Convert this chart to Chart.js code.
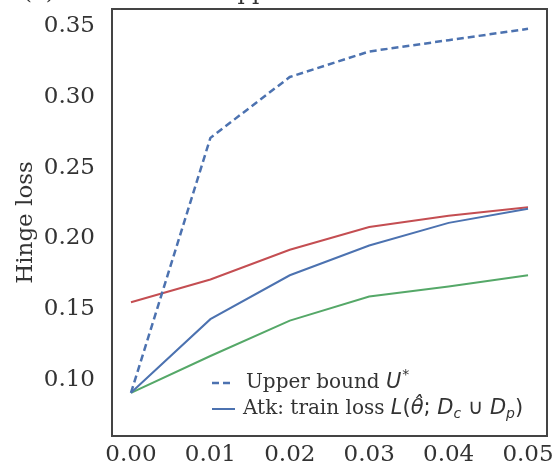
<!DOCTYPE html>
<html>
<head>
<meta charset="utf-8">
<script src="https://cdn.jsdelivr.net/npm/chart.js@4"></script>
<style>
  html, body { margin: 0; padding: 0; background: #fff; }
  #grafico { display: block; }
</style>
</head>
<body>
<canvas id="grafico" width="556" height="471"></canvas>
<script>
// Datos
const xValores = [0.00, 0.01, 0.02, 0.03, 0.04, 0.05];
const cotaSuperior = [0.091, 0.271, 0.314, 0.332, 0.340, 0.348];
const perdidaAtaque = [0.091, 0.143, 0.174, 0.195, 0.211, 0.221];
const serieRoja = [0.155, 0.171, 0.192, 0.208, 0.216, 0.222];
const serieVerde = [0.091, 0.117, 0.142, 0.159, 0.166, 0.174];

const xTicks = [0.00, 0.01, 0.02, 0.03, 0.04, 0.05];
const yTicks = [0.10, 0.15, 0.20, 0.25, 0.30, 0.35];

const AZUL = '#4C72B0';
const VERDE = '#55A868';
const ROJO = '#C44E52';
const TEXTO = '#333333';
const SERIF = "'DejaVu Serif', serif";

const puntos = arr => arr.map((v, i) => ({ x: xValores[i], y: v }));

// Marco alrededor del area de trazado
const marcoPlugin = {
  id: 'marco',
  afterDatasetsDraw(chart) {
    const { ctx, chartArea: a } = chart;
    ctx.save();
    ctx.strokeStyle = '#444';
    ctx.lineWidth = 2;
    ctx.strokeRect(a.left, a.top, a.right - a.left, a.bottom - a.top);
    ctx.restore();
  }
};

// Dibuja segmentos de texto con estilos distintos (tipo mathtext)
function dibujarSegmentos(ctx, x, y, segmentos) {
  segmentos.forEach(s => {
    ctx.font = s.font;
    ctx.fillText(s.t, x, y + (s.dy || 0));
    x += ctx.measureText(s.t).width + (s.extra || 0);
  });
}

// Leyenda dentro del grafico (abajo a la derecha)
const leyendaPlugin = {
  id: 'leyendaInterna',
  afterDraw(chart) {
    const { ctx } = chart;
    const normal = "20px 'DejaVu Serif'";
    const mate = "21px 'DejaVu Sans'";
    const ital = "italic 21px 'DejaVu Sans'";
    const chico = "italic 14px 'DejaVu Sans'";
    ctx.save();
    ctx.fillStyle = TEXTO;
    ctx.textBaseline = 'middle';

    // Entrada 1: cota superior (discontinua)
    ctx.strokeStyle = AZUL;
    ctx.lineWidth = 2.5;
    ctx.setLineDash([7, 4]);
    ctx.beginPath();
    ctx.moveTo(212, 383);
    ctx.lineTo(234, 383);
    ctx.stroke();
    dibujarSegmentos(ctx, 246, 383, [
      { t: 'Upper bound ', font: normal },
      { t: 'U', font: ital, extra: 1 },
      { t: '*', font: "14px 'DejaVu Sans'", dy: -8 }
    ]);

    // Entrada 2: perdida de entrenamiento del ataque
    ctx.setLineDash([]);
    ctx.lineWidth = 2;
    ctx.beginPath();
    ctx.moveTo(212, 409);
    ctx.lineTo(235, 409);
    ctx.stroke();
    dibujarSegmentos(ctx, 243, 409, [
      { t: 'Atk: train loss ', font: normal },
      { t: 'L', font: ital },
      { t: '(', font: mate },
      { t: 'θ̂', font: ital },
      { t: '; ', font: mate },
      { t: 'D', font: ital },
      { t: 'c', font: chico, dy: 5 },
      { t: ' ∪ ', font: mate },
      { t: 'D', font: ital },
      { t: 'p', font: chico, dy: 5 },
      { t: ')', font: mate }
    ]);

    // Titulo recortado en el borde superior
    ctx.textBaseline = 'alphabetic';
    ctx.font = "23px " + SERIF;
    ctx.fillText('(a)', 23, -1);
    ctx.fillText('Upper', 218, -1);
    ctx.restore();
  }
};

const fuenteEje = { family: SERIF, size: 23 };

new Chart(document.getElementById('grafico').getContext('2d'), {
  type: 'line',
  data: {
    datasets: [
      {
        label: 'Upper bound U*',
        data: puntos(cotaSuperior),
        borderColor: AZUL,
        borderWidth: 2.5,
        borderDash: [7, 4],
        pointRadius: 0,
        fill: false
      },
      {
        label: 'Atk: train loss',
        data: puntos(perdidaAtaque),
        borderColor: AZUL,
        borderWidth: 2,
        pointRadius: 0,
        fill: false
      },
      {
        label: 'Serie roja',
        data: puntos(serieRoja),
        borderColor: ROJO,
        borderWidth: 2,
        pointRadius: 0,
        fill: false
      },
      {
        label: 'Serie verde',
        data: puntos(serieVerde),
        borderColor: VERDE,
        borderWidth: 2,
        pointRadius: 0,
        fill: false
      }
    ]
  },
  options: {
    responsive: false,
    animation: false,
    layout: { padding: { top: 9, right: 9, left: 0, bottom: 0 } },
    plugins: {
      legend: { display: false },
      tooltip: { enabled: false }
    },
    scales: {
      x: {
        type: 'linear',
        min: -0.00239,
        max: 0.05239,
        grid: { display: false, drawTicks: false },
        border: { display: false },
        afterBuildTicks: s => { s.ticks = xTicks.map(v => ({ value: v })); },
        afterFit: s => { s.height = 35; s.paddingLeft = 0; s.paddingRight = 0; },
        ticks: {
          font: fuenteEje,
          color: TEXTO,
          padding: 5,
          maxRotation: 0,
          autoSkip: false,
          callback: v => Number(v).toFixed(2)
        }
      },
      y: {
        min: 0.0605,
        max: 0.362,
        grid: { display: false, drawTicks: false },
        border: { display: false },
        afterBuildTicks: s => { s.ticks = yTicks.map(v => ({ value: v })); },
        afterFit: s => { s.width = 112; s.paddingTop = 0; s.paddingBottom = 0; },
        title: {
          display: true,
          text: 'Hinge loss',
          font: fuenteEje,
          color: TEXTO,
          padding: { top: 12, bottom: 0 }
        },
        ticks: {
          font: fuenteEje,
          color: TEXTO,
          padding: 17,
          autoSkip: false,
          callback: v => Number(v).toFixed(2)
        }
      }
    }
  },
  plugins: [marcoPlugin, leyendaPlugin]
});
</script>
</body>
</html>
